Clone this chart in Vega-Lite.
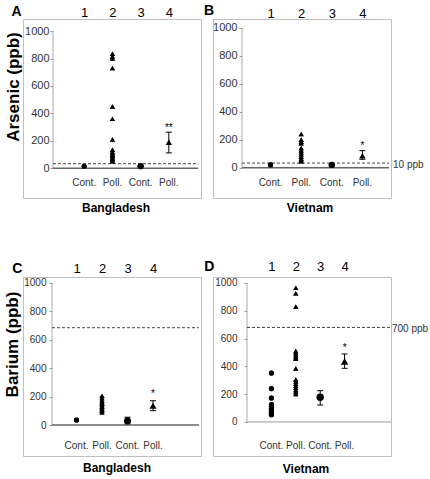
{
  "$schema": "https://vega.github.io/schema/vega-lite/v6.json",
  "padding": {"left": 2, "top": 3, "right": 0, "bottom": 0},
  "background": "white",
  "bounds": "flush",
  "columns": 2,
  "spacing": {"row": 79, "column": 12},
  "config": {
    "font": "Liberation Sans",
    "view": {"stroke": "#c0c0c0", "strokeWidth": 1},
    "axis": {"grid": false}
  },
  "datasets": {
    "cats": [
      {"c": 1, "lab": "Cont."}, {"c": 2, "lab": "Poll."}, {"c": 3, "lab": "Cont."}, {"c": 4, "lab": "Poll."}
    ],
    "pts": [
      {"p": "A", "c": 1, "v": 15},
      {"p": "A", "c": 2, "v": 835}, {"p": "A", "c": 2, "v": 815}, {"p": "A", "c": 2, "v": 800}, {"p": "A", "c": 2, "v": 730},
      {"p": "A", "c": 2, "v": 450}, {"p": "A", "c": 2, "v": 360}, {"p": "A", "c": 2, "v": 210}, {"p": "A", "c": 2, "v": 135},
      {"p": "A", "c": 2, "v": 120}, {"p": "A", "c": 2, "v": 110}, {"p": "A", "c": 2, "v": 100}, {"p": "A", "c": 2, "v": 90},
      {"p": "A", "c": 2, "v": 80}, {"p": "A", "c": 2, "v": 70}, {"p": "A", "c": 2, "v": 60}, {"p": "A", "c": 2, "v": 50},
      {"p": "B", "c": 1, "v": 20},
      {"p": "B", "c": 2, "v": 240}, {"p": "B", "c": 2, "v": 200}, {"p": "B", "c": 2, "v": 185}, {"p": "B", "c": 2, "v": 175},
      {"p": "B", "c": 2, "v": 140}, {"p": "B", "c": 2, "v": 125}, {"p": "B", "c": 2, "v": 110}, {"p": "B", "c": 2, "v": 95},
      {"p": "B", "c": 2, "v": 80}, {"p": "B", "c": 2, "v": 65}, {"p": "B", "c": 2, "v": 55}, {"p": "B", "c": 2, "v": 45},
      {"p": "C", "c": 1, "v": 35},
      {"p": "C", "c": 2, "v": 205}, {"p": "C", "c": 2, "v": 190}, {"p": "C", "c": 2, "v": 175}, {"p": "C", "c": 2, "v": 160},
      {"p": "C", "c": 2, "v": 150}, {"p": "C", "c": 2, "v": 140}, {"p": "C", "c": 2, "v": 130}, {"p": "C", "c": 2, "v": 120},
      {"p": "C", "c": 2, "v": 110}, {"p": "C", "c": 2, "v": 100}, {"p": "C", "c": 2, "v": 90},
      {"p": "D", "c": 1, "v": 352}, {"p": "D", "c": 1, "v": 240}, {"p": "D", "c": 1, "v": 172}, {"p": "D", "c": 1, "v": 125},
      {"p": "D", "c": 1, "v": 110}, {"p": "D", "c": 1, "v": 95}, {"p": "D", "c": 1, "v": 80}, {"p": "D", "c": 1, "v": 65},
      {"p": "D", "c": 1, "v": 52},
      {"p": "D", "c": 2, "v": 965}, {"p": "D", "c": 2, "v": 925}, {"p": "D", "c": 2, "v": 830}, {"p": "D", "c": 2, "v": 510},
      {"p": "D", "c": 2, "v": 495}, {"p": "D", "c": 2, "v": 480}, {"p": "D", "c": 2, "v": 465}, {"p": "D", "c": 2, "v": 455},
      {"p": "D", "c": 2, "v": 385}, {"p": "D", "c": 2, "v": 305}, {"p": "D", "c": 2, "v": 290}, {"p": "D", "c": 2, "v": 275},
      {"p": "D", "c": 2, "v": 260}, {"p": "D", "c": 2, "v": 245}, {"p": "D", "c": 2, "v": 230}, {"p": "D", "c": 2, "v": 215},
      {"p": "D", "c": 2, "v": 200}
    ],
    "means": [
      {"p": "A", "c": 3, "v": 15, "lo": 12, "hi": 18, "s": ""},
      {"p": "A", "c": 4, "v": 190, "lo": 112, "hi": 263, "s": "**"},
      {"p": "B", "c": 3, "v": 20, "lo": 17, "hi": 23, "s": ""},
      {"p": "B", "c": 4, "v": 86, "lo": 60, "hi": 122, "s": "*"},
      {"p": "C", "c": 3, "v": 30, "lo": 8, "hi": 55, "s": ""},
      {"p": "C", "c": 4, "v": 136, "lo": 101, "hi": 171, "s": "*"},
      {"p": "D", "c": 3, "v": 178, "lo": 122, "hi": 225, "s": ""},
      {"p": "D", "c": 4, "v": 435, "lo": 386, "hi": 489, "s": "*"}
    ]
  },
  "concat": [
    {
      "width": 178, "height": 179,
      "resolve": {"axis": {"x": "independent", "y": "independent"}},
      "title": {"text": "Bangladesh", "orient": "bottom", "anchor": "middle", "frame": "group", "offset": 5, "dx": 4, "fontSize": 12, "fontWeight": "bold", "color": "black"},
      "layer": [
        {"data": {"name": "pts"}, "transform": [{"filter": "datum.p == 'A'"}],
         "mark": {"type": "point", "filled": true, "color": "black", "opacity": 1, "size": 26},
         "encoding": {
           "x": {"field": "c", "type": "quantitative", "scale": {"domain": [-1.17, 5.14], "nice": false, "zero": false},
                 "axis": {"orient": "top", "values": [1, 2, 3, 4], "format": "d", "domain": false, "ticks": false, "tickSize": 0, "labelFontSize": 13, "labelColor": "black", "labelPadding": 0, "labelFlush": false,
                          "title": "A", "titleFontSize": 14, "titleFontWeight": "bold", "titleColor": "black", "titleX": -7, "titleY": -7.5, "titleAngle": 0, "titleAlign": "center", "titleBaseline": "middle"}},
           "y": {"field": "v", "type": "quantitative", "scale": {"domain": [-217, 1088], "nice": false, "zero": false},
                 "axis": {"orient": "left", "offset": -30, "values": [0, 200, 400, 600, 800, 1000], "format": "d", "domain": false, "tickColor": "#999999", "tickSize": 3, "labelFontSize": 11, "labelColor": "#333333", "labelPadding": 1, "labelFlush": false,
                          "title": "Arsenic (ppb)", "titleFontSize": 17, "titleFontWeight": "bold", "titleColor": "black", "titleX": -40, "titleY": 67.5, "titleAngle": -90, "titleAlign": "center", "titleBaseline": "middle"}},
           "shape": {"condition": {"test": "datum.c % 2 == 1", "value": "circle"}, "value": "triangle-up"}}},
        {"data": {"values": [{}]}, "mark": {"type": "rule", "color": "#aaaaaa"},
         "encoding": {"x": {"datum": -0.106, "type": "quantitative", "scale": {"domain": [-1.17, 5.14], "nice": false, "zero": false}, "axis": null},
                      "y": {"datum": 0, "type": "quantitative", "scale": {"domain": [-217, 1088], "nice": false, "zero": false}, "axis": null},
                      "y2": {"datum": 1000}}},
        {"data": {"values": [{}]}, "mark": {"type": "rule", "color": "#666666", "strokeWidth": 1.5},
         "encoding": {"x": {"datum": -0.106, "type": "quantitative", "scale": {"domain": [-1.17, 5.14], "nice": false, "zero": false}, "axis": null},
                      "x2": {"datum": 5.04},
                      "y": {"datum": 0, "type": "quantitative", "scale": {"domain": [-217, 1088], "nice": false, "zero": false}, "axis": null}}},
        {"data": {"values": [{}]}, "mark": {"type": "rule", "color": "#444444", "strokeDash": [3, 2]},
         "encoding": {"x": {"datum": -0.106, "type": "quantitative", "scale": {"domain": [-1.17, 5.14], "nice": false, "zero": false}, "axis": null},
                      "x2": {"datum": 5.04},
                      "y": {"datum": 33, "type": "quantitative", "scale": {"domain": [-217, 1088], "nice": false, "zero": false}, "axis": null}}},
        {"data": {"name": "cats"}, "mark": {"type": "text", "fontSize": 10, "color": "#333333", "baseline": "middle"},
         "encoding": {"x": {"field": "c", "type": "quantitative", "scale": {"domain": [-1.17, 5.14], "nice": false, "zero": false}, "axis": null},
                      "y": {"datum": -107, "type": "quantitative", "scale": {"domain": [-217, 1088], "nice": false, "zero": false}, "axis": null},
                      "text": {"field": "lab"}}},
        {"data": {"name": "pts"}, "transform": [{"filter": "datum.p == 'A'"}],
         "mark": {"type": "point", "filled": true, "color": "black", "opacity": 1, "size": 26},
         "encoding": {"x": {"field": "c", "type": "quantitative", "scale": {"domain": [-1.17, 5.14], "nice": false, "zero": false}, "axis": null},
                      "y": {"field": "v", "type": "quantitative", "scale": {"domain": [-217, 1088], "nice": false, "zero": false}, "axis": null},
                      "shape": {"condition": {"test": "datum.c % 2 == 1", "value": "circle"}, "value": "triangle-up"}}},
        {"data": {"name": "means"}, "transform": [{"filter": "datum.p == 'A'"}],
         "mark": {"type": "rule", "color": "black"},
         "encoding": {"x": {"field": "c", "type": "quantitative", "scale": {"domain": [-1.17, 5.14], "nice": false, "zero": false}, "axis": null},
                      "y": {"field": "lo", "type": "quantitative", "scale": {"domain": [-217, 1088], "nice": false, "zero": false}, "axis": null},
                      "y2": {"field": "hi"}}},
        {"data": {"name": "means"}, "transform": [{"filter": "datum.p == 'A'"}],
         "mark": {"type": "tick", "orient": "horizontal", "size": 6, "thickness": 1, "color": "black", "opacity": 1},
         "encoding": {"x": {"field": "c", "type": "quantitative", "scale": {"domain": [-1.17, 5.14], "nice": false, "zero": false}, "axis": null},
                      "y": {"field": "lo", "type": "quantitative", "scale": {"domain": [-217, 1088], "nice": false, "zero": false}, "axis": null}}},
        {"data": {"name": "means"}, "transform": [{"filter": "datum.p == 'A'"}],
         "mark": {"type": "tick", "orient": "horizontal", "size": 6, "thickness": 1, "color": "black", "opacity": 1},
         "encoding": {"x": {"field": "c", "type": "quantitative", "scale": {"domain": [-1.17, 5.14], "nice": false, "zero": false}, "axis": null},
                      "y": {"field": "hi", "type": "quantitative", "scale": {"domain": [-217, 1088], "nice": false, "zero": false}, "axis": null}}},
        {"data": {"name": "means"}, "transform": [{"filter": "datum.p == 'A'"}],
         "mark": {"type": "point", "filled": true, "color": "black", "opacity": 1, "size": 40},
         "encoding": {"x": {"field": "c", "type": "quantitative", "scale": {"domain": [-1.17, 5.14], "nice": false, "zero": false}, "axis": null},
                      "y": {"field": "v", "type": "quantitative", "scale": {"domain": [-217, 1088], "nice": false, "zero": false}, "axis": null},
                      "shape": {"condition": {"test": "datum.c % 2 == 1", "value": "circle"}, "value": "triangle-up"}}},
        {"data": {"name": "means"}, "transform": [{"filter": "datum.p == 'A' && datum.s != ''"}],
         "mark": {"type": "text", "fontSize": 10, "color": "black", "baseline": "alphabetic", "dy": -1},
         "encoding": {"x": {"field": "c", "type": "quantitative", "scale": {"domain": [-1.17, 5.14], "nice": false, "zero": false}, "axis": null},
                      "y": {"field": "hi", "type": "quantitative", "scale": {"domain": [-217, 1088], "nice": false, "zero": false}, "axis": null},
                      "text": {"field": "s"}}}
      ]
    },
    {
      "width": 178, "height": 179,
      "resolve": {"axis": {"x": "independent", "y": "independent"}},
      "title": {"text": "Vietnam", "orient": "bottom", "anchor": "middle", "frame": "group", "offset": 5, "dx": 8, "fontSize": 12, "fontWeight": "bold", "color": "black"},
      "layer": [
        {"data": {"name": "pts"}, "transform": [{"filter": "datum.p == 'B'"}],
         "mark": {"type": "point", "filled": true, "color": "black", "opacity": 1, "size": 26},
         "encoding": {
           "x": {"field": "c", "type": "quantitative", "scale": {"domain": [-0.882, 4.935], "nice": false, "zero": false},
                 "axis": {"orient": "top", "values": [1, 2, 3, 4], "format": "d", "domain": false, "ticks": false, "tickSize": 0, "labelFontSize": 13, "labelColor": "black", "labelPadding": -1, "labelFlush": false,
                          "title": "B", "titleFontSize": 14, "titleFontWeight": "bold", "titleColor": "black", "titleX": -4.5, "titleY": -8.3, "titleAngle": 0, "titleAlign": "center", "titleBaseline": "middle"}},
           "y": {"field": "v", "type": "quantitative", "scale": {"domain": [-217, 1064], "nice": false, "zero": false},
                 "axis": {"orient": "left", "offset": -29, "values": [0, 200, 400, 600, 800, 1000], "format": "d", "domain": false, "tickColor": "#999999", "tickSize": 3, "labelFontSize": 11, "labelColor": "#333333", "labelPadding": 2, "labelFlush": false, "title": null}},
           "shape": {"condition": {"test": "datum.c % 2 == 1", "value": "circle"}, "value": "triangle-up"}}},
        {"data": {"values": [{}]}, "mark": {"type": "rule", "color": "#aaaaaa"},
         "encoding": {"x": {"datum": 0.065, "type": "quantitative", "scale": {"domain": [-0.882, 4.935], "nice": false, "zero": false}, "axis": null},
                      "y": {"datum": 0, "type": "quantitative", "scale": {"domain": [-217, 1064], "nice": false, "zero": false}, "axis": null},
                      "y2": {"datum": 1000}}},
        {"data": {"values": [{}]}, "mark": {"type": "rule", "color": "#666666", "strokeWidth": 1.5},
         "encoding": {"x": {"datum": 0.065, "type": "quantitative", "scale": {"domain": [-0.882, 4.935], "nice": false, "zero": false}, "axis": null},
                      "x2": {"datum": 4.87},
                      "y": {"datum": 0, "type": "quantitative", "scale": {"domain": [-217, 1064], "nice": false, "zero": false}, "axis": null}}},
        {"data": {"values": [{}]}, "mark": {"type": "rule", "color": "#444444", "strokeDash": [3, 2]},
         "encoding": {"x": {"datum": 0.065, "type": "quantitative", "scale": {"domain": [-0.882, 4.935], "nice": false, "zero": false}, "axis": null},
                      "x2": {"datum": 4.87},
                      "y": {"datum": 33, "type": "quantitative", "scale": {"domain": [-217, 1064], "nice": false, "zero": false}, "axis": null}}},
        {"data": {"values": [{"t": "10 ppb"}]}, "mark": {"type": "text", "fontSize": 10, "color": "#333333", "align": "left", "baseline": "middle", "dx": 2, "dy": 2},
         "encoding": {"x": {"datum": 4.935, "type": "quantitative", "scale": {"domain": [-0.882, 4.935], "nice": false, "zero": false}, "axis": null},
                      "y": {"datum": 33, "type": "quantitative", "scale": {"domain": [-217, 1064], "nice": false, "zero": false}, "axis": null},
                      "text": {"field": "t"}}},
        {"data": {"name": "cats"}, "mark": {"type": "text", "fontSize": 10, "color": "#333333", "baseline": "middle"},
         "encoding": {"x": {"field": "c", "type": "quantitative", "scale": {"domain": [-0.882, 4.935], "nice": false, "zero": false}, "axis": null},
                      "y": {"datum": -109, "type": "quantitative", "scale": {"domain": [-217, 1064], "nice": false, "zero": false}, "axis": null},
                      "text": {"field": "lab"}}},
        {"data": {"name": "pts"}, "transform": [{"filter": "datum.p == 'B'"}],
         "mark": {"type": "point", "filled": true, "color": "black", "opacity": 1, "size": 26},
         "encoding": {"x": {"field": "c", "type": "quantitative", "scale": {"domain": [-0.882, 4.935], "nice": false, "zero": false}, "axis": null},
                      "y": {"field": "v", "type": "quantitative", "scale": {"domain": [-217, 1064], "nice": false, "zero": false}, "axis": null},
                      "shape": {"condition": {"test": "datum.c % 2 == 1", "value": "circle"}, "value": "triangle-up"}}},
        {"data": {"name": "means"}, "transform": [{"filter": "datum.p == 'B'"}],
         "mark": {"type": "rule", "color": "black"},
         "encoding": {"x": {"field": "c", "type": "quantitative", "scale": {"domain": [-0.882, 4.935], "nice": false, "zero": false}, "axis": null},
                      "y": {"field": "lo", "type": "quantitative", "scale": {"domain": [-217, 1064], "nice": false, "zero": false}, "axis": null},
                      "y2": {"field": "hi"}}},
        {"data": {"name": "means"}, "transform": [{"filter": "datum.p == 'B'"}],
         "mark": {"type": "tick", "orient": "horizontal", "size": 6, "thickness": 1, "color": "black", "opacity": 1},
         "encoding": {"x": {"field": "c", "type": "quantitative", "scale": {"domain": [-0.882, 4.935], "nice": false, "zero": false}, "axis": null},
                      "y": {"field": "lo", "type": "quantitative", "scale": {"domain": [-217, 1064], "nice": false, "zero": false}, "axis": null}}},
        {"data": {"name": "means"}, "transform": [{"filter": "datum.p == 'B'"}],
         "mark": {"type": "tick", "orient": "horizontal", "size": 6, "thickness": 1, "color": "black", "opacity": 1},
         "encoding": {"x": {"field": "c", "type": "quantitative", "scale": {"domain": [-0.882, 4.935], "nice": false, "zero": false}, "axis": null},
                      "y": {"field": "hi", "type": "quantitative", "scale": {"domain": [-217, 1064], "nice": false, "zero": false}, "axis": null}}},
        {"data": {"name": "means"}, "transform": [{"filter": "datum.p == 'B'"}],
         "mark": {"type": "point", "filled": true, "color": "black", "opacity": 1, "size": 40},
         "encoding": {"x": {"field": "c", "type": "quantitative", "scale": {"domain": [-0.882, 4.935], "nice": false, "zero": false}, "axis": null},
                      "y": {"field": "v", "type": "quantitative", "scale": {"domain": [-217, 1064], "nice": false, "zero": false}, "axis": null},
                      "shape": {"condition": {"test": "datum.c % 2 == 1", "value": "circle"}, "value": "triangle-up"}}},
        {"data": {"name": "means"}, "transform": [{"filter": "datum.p == 'B' && datum.s != ''"}],
         "mark": {"type": "text", "fontSize": 10, "color": "black", "baseline": "alphabetic", "dy": -2},
         "encoding": {"x": {"field": "c", "type": "quantitative", "scale": {"domain": [-0.882, 4.935], "nice": false, "zero": false}, "axis": null},
                      "y": {"field": "hi", "type": "quantitative", "scale": {"domain": [-217, 1064], "nice": false, "zero": false}, "axis": null},
                      "text": {"field": "s"}}}
      ]
    },
    {
      "width": 178, "height": 179,
      "resolve": {"axis": {"x": "independent", "y": "independent"}},
      "title": {"text": "Bangladesh", "orient": "bottom", "anchor": "middle", "frame": "group", "offset": 7, "dx": 5, "fontSize": 12, "fontWeight": "bold", "color": "black"},
      "layer": [
        {"data": {"name": "pts"}, "transform": [{"filter": "datum.p == 'C'"}],
         "mark": {"type": "point", "filled": true, "color": "black", "opacity": 1, "size": 26},
         "encoding": {
           "x": {"field": "c", "type": "quantitative", "scale": {"domain": [-1.098, 5.882], "nice": false, "zero": false},
                 "axis": {"orient": "top", "values": [1, 2, 3, 4], "format": "d", "domain": false, "ticks": false, "tickSize": 0, "labelFontSize": 13, "labelColor": "black", "labelPadding": 2, "labelFlush": false,
                          "title": "C", "titleFontSize": 14, "titleFontWeight": "bold", "titleColor": "black", "titleX": -6.3, "titleY": -9, "titleAngle": 0, "titleAlign": "center", "titleBaseline": "middle"}},
           "y": {"field": "v", "type": "quantitative", "scale": {"domain": [-218, 1042], "nice": false, "zero": false},
                 "axis": {"orient": "left", "offset": -29, "values": [0, 200, 400, 600, 800, 1000], "format": "d", "domain": false, "tickColor": "#999999", "tickSize": 3, "labelFontSize": 10, "labelColor": "#333333", "labelPadding": 3, "labelFlush": false,
                          "title": "Barium (ppb)", "titleFontSize": 17, "titleFontWeight": "bold", "titleColor": "black", "titleX": -39.7, "titleY": 67, "titleAngle": -90, "titleAlign": "center", "titleBaseline": "middle"}},
           "shape": {"condition": {"test": "datum.c % 2 == 1", "value": "circle"}, "value": "triangle-up"}}},
        {"data": {"values": [{}]}, "mark": {"type": "rule", "color": "#aaaaaa"},
         "encoding": {"x": {"datum": 0.039, "type": "quantitative", "scale": {"domain": [-1.098, 5.882], "nice": false, "zero": false}, "axis": null},
                      "y": {"datum": 0, "type": "quantitative", "scale": {"domain": [-218, 1042], "nice": false, "zero": false}, "axis": null},
                      "y2": {"datum": 1000}}},
        {"data": {"values": [{}]}, "mark": {"type": "rule", "color": "#666666", "strokeWidth": 1.5},
         "encoding": {"x": {"datum": 0.039, "type": "quantitative", "scale": {"domain": [-1.098, 5.882], "nice": false, "zero": false}, "axis": null},
                      "x2": {"datum": 5.8},
                      "y": {"datum": 0, "type": "quantitative", "scale": {"domain": [-218, 1042], "nice": false, "zero": false}, "axis": null}}},
        {"data": {"values": [{}]}, "mark": {"type": "rule", "color": "#444444", "strokeDash": [3, 2]},
         "encoding": {"x": {"datum": 0.039, "type": "quantitative", "scale": {"domain": [-1.098, 5.882], "nice": false, "zero": false}, "axis": null},
                      "x2": {"datum": 5.8},
                      "y": {"datum": 685, "type": "quantitative", "scale": {"domain": [-218, 1042], "nice": false, "zero": false}, "axis": null}}},
        {"data": {"name": "cats"}, "mark": {"type": "text", "fontSize": 10, "color": "#333333", "baseline": "middle"},
         "encoding": {"x": {"field": "c", "type": "quantitative", "scale": {"domain": [-1.098, 5.882], "nice": false, "zero": false}, "axis": null},
                      "y": {"datum": -148, "type": "quantitative", "scale": {"domain": [-218, 1042], "nice": false, "zero": false}, "axis": null},
                      "text": {"field": "lab"}}},
        {"data": {"name": "pts"}, "transform": [{"filter": "datum.p == 'C'"}],
         "mark": {"type": "point", "filled": true, "color": "black", "opacity": 1, "size": 26},
         "encoding": {"x": {"field": "c", "type": "quantitative", "scale": {"domain": [-1.098, 5.882], "nice": false, "zero": false}, "axis": null},
                      "y": {"field": "v", "type": "quantitative", "scale": {"domain": [-218, 1042], "nice": false, "zero": false}, "axis": null},
                      "shape": {"condition": {"test": "datum.c % 2 == 1", "value": "circle"}, "value": "triangle-up"}}},
        {"data": {"name": "means"}, "transform": [{"filter": "datum.p == 'C'"}],
         "mark": {"type": "rule", "color": "black"},
         "encoding": {"x": {"field": "c", "type": "quantitative", "scale": {"domain": [-1.098, 5.882], "nice": false, "zero": false}, "axis": null},
                      "y": {"field": "lo", "type": "quantitative", "scale": {"domain": [-218, 1042], "nice": false, "zero": false}, "axis": null},
                      "y2": {"field": "hi"}}},
        {"data": {"name": "means"}, "transform": [{"filter": "datum.p == 'C'"}],
         "mark": {"type": "tick", "orient": "horizontal", "size": 6, "thickness": 1, "color": "black", "opacity": 1},
         "encoding": {"x": {"field": "c", "type": "quantitative", "scale": {"domain": [-1.098, 5.882], "nice": false, "zero": false}, "axis": null},
                      "y": {"field": "lo", "type": "quantitative", "scale": {"domain": [-218, 1042], "nice": false, "zero": false}, "axis": null}}},
        {"data": {"name": "means"}, "transform": [{"filter": "datum.p == 'C'"}],
         "mark": {"type": "tick", "orient": "horizontal", "size": 6, "thickness": 1, "color": "black", "opacity": 1},
         "encoding": {"x": {"field": "c", "type": "quantitative", "scale": {"domain": [-1.098, 5.882], "nice": false, "zero": false}, "axis": null},
                      "y": {"field": "hi", "type": "quantitative", "scale": {"domain": [-218, 1042], "nice": false, "zero": false}, "axis": null}}},
        {"data": {"name": "means"}, "transform": [{"filter": "datum.p == 'C'"}],
         "mark": {"type": "point", "filled": true, "color": "black", "opacity": 1, "size": 50},
         "encoding": {"x": {"field": "c", "type": "quantitative", "scale": {"domain": [-1.098, 5.882], "nice": false, "zero": false}, "axis": null},
                      "y": {"field": "v", "type": "quantitative", "scale": {"domain": [-218, 1042], "nice": false, "zero": false}, "axis": null},
                      "shape": {"condition": {"test": "datum.c % 2 == 1", "value": "circle"}, "value": "triangle-up"}}},
        {"data": {"name": "means"}, "transform": [{"filter": "datum.p == 'C' && datum.s != ''"}],
         "mark": {"type": "text", "fontSize": 10, "color": "black", "baseline": "alphabetic", "dy": -4},
         "encoding": {"x": {"field": "c", "type": "quantitative", "scale": {"domain": [-1.098, 5.882], "nice": false, "zero": false}, "axis": null},
                      "y": {"field": "hi", "type": "quantitative", "scale": {"domain": [-218, 1042], "nice": false, "zero": false}, "axis": null},
                      "text": {"field": "s"}}}
      ]
    },
    {
      "width": 178, "height": 179,
      "resolve": {"axis": {"x": "independent", "y": "independent"}},
      "title": {"text": "Vietnam", "orient": "bottom", "anchor": "middle", "frame": "group", "offset": 8, "dx": 4, "fontSize": 12, "fontWeight": "bold", "color": "black"},
      "layer": [
        {"data": {"name": "pts"}, "transform": [{"filter": "datum.p == 'D'"}],
         "mark": {"type": "point", "filled": true, "color": "black", "opacity": 1, "size": 26},
         "encoding": {
           "x": {"field": "c", "type": "quantitative", "scale": {"domain": [-1.393, 5.902], "nice": false, "zero": false},
                 "axis": {"orient": "top", "values": [1, 2, 3, 4], "format": "d", "domain": false, "ticks": false, "tickSize": 0, "labelFontSize": 13, "labelColor": "black", "labelPadding": 4, "labelFlush": false,
                          "title": "D", "titleFontSize": 14, "titleFontWeight": "bold", "titleColor": "black", "titleX": -4.3, "titleY": -10.5, "titleAngle": 0, "titleAlign": "center", "titleBaseline": "middle"}},
           "y": {"field": "v", "type": "quantitative", "scale": {"domain": [-245, 1043], "nice": false, "zero": false},
                 "axis": {"orient": "left", "offset": -34, "values": [0, 200, 400, 600, 800, 1000], "format": "d", "domain": false, "tickColor": "#999999", "tickSize": 3, "labelFontSize": 10, "labelColor": "#333333", "labelPadding": 7, "labelFlush": false, "title": null}},
           "shape": {"condition": {"test": "datum.c % 2 == 1", "value": "circle"}, "value": "triangle-up"}}},
        {"data": {"values": [{}]}, "mark": {"type": "rule", "color": "#aaaaaa"},
         "encoding": {"x": {"datum": 0, "type": "quantitative", "scale": {"domain": [-1.393, 5.902], "nice": false, "zero": false}, "axis": null},
                      "y": {"datum": 0, "type": "quantitative", "scale": {"domain": [-245, 1043], "nice": false, "zero": false}, "axis": null},
                      "y2": {"datum": 1000}}},
        {"data": {"values": [{}]}, "mark": {"type": "rule", "color": "#999999", "strokeWidth": 1},
         "encoding": {"x": {"datum": 0, "type": "quantitative", "scale": {"domain": [-1.393, 5.902], "nice": false, "zero": false}, "axis": null},
                      "x2": {"datum": 5.9},
                      "y": {"datum": 0, "type": "quantitative", "scale": {"domain": [-245, 1043], "nice": false, "zero": false}, "axis": null}}},
        {"data": {"values": [{}]}, "mark": {"type": "rule", "color": "#444444", "strokeDash": [3, 2]},
         "encoding": {"x": {"datum": 0, "type": "quantitative", "scale": {"domain": [-1.393, 5.902], "nice": false, "zero": false}, "axis": null},
                      "x2": {"datum": 5.902},
                      "y": {"datum": 680, "type": "quantitative", "scale": {"domain": [-245, 1043], "nice": false, "zero": false}, "axis": null}}},
        {"data": {"values": [{"t": "700 ppb"}]}, "mark": {"type": "text", "fontSize": 10, "color": "#333333", "align": "left", "baseline": "middle", "dx": 1, "dy": 2},
         "encoding": {"x": {"datum": 5.902, "type": "quantitative", "scale": {"domain": [-1.393, 5.902], "nice": false, "zero": false}, "axis": null},
                      "y": {"datum": 680, "type": "quantitative", "scale": {"domain": [-245, 1043], "nice": false, "zero": false}, "axis": null},
                      "text": {"field": "t"}}},
        {"data": {"name": "cats"}, "mark": {"type": "text", "fontSize": 10, "color": "#333333", "baseline": "middle"},
         "encoding": {"x": {"field": "c", "type": "quantitative", "scale": {"domain": [-1.393, 5.902], "nice": false, "zero": false}, "axis": null},
                      "y": {"datum": -173, "type": "quantitative", "scale": {"domain": [-245, 1043], "nice": false, "zero": false}, "axis": null},
                      "text": {"field": "lab"}}},
        {"data": {"name": "pts"}, "transform": [{"filter": "datum.p == 'D'"}],
         "mark": {"type": "point", "filled": true, "color": "black", "opacity": 1, "size": 26},
         "encoding": {"x": {"field": "c", "type": "quantitative", "scale": {"domain": [-1.393, 5.902], "nice": false, "zero": false}, "axis": null},
                      "y": {"field": "v", "type": "quantitative", "scale": {"domain": [-245, 1043], "nice": false, "zero": false}, "axis": null},
                      "shape": {"condition": {"test": "datum.c % 2 == 1", "value": "circle"}, "value": "triangle-up"}}},
        {"data": {"name": "means"}, "transform": [{"filter": "datum.p == 'D'"}],
         "mark": {"type": "rule", "color": "black"},
         "encoding": {"x": {"field": "c", "type": "quantitative", "scale": {"domain": [-1.393, 5.902], "nice": false, "zero": false}, "axis": null},
                      "y": {"field": "lo", "type": "quantitative", "scale": {"domain": [-245, 1043], "nice": false, "zero": false}, "axis": null},
                      "y2": {"field": "hi"}}},
        {"data": {"name": "means"}, "transform": [{"filter": "datum.p == 'D'"}],
         "mark": {"type": "tick", "orient": "horizontal", "size": 6, "thickness": 1, "color": "black", "opacity": 1},
         "encoding": {"x": {"field": "c", "type": "quantitative", "scale": {"domain": [-1.393, 5.902], "nice": false, "zero": false}, "axis": null},
                      "y": {"field": "lo", "type": "quantitative", "scale": {"domain": [-245, 1043], "nice": false, "zero": false}, "axis": null}}},
        {"data": {"name": "means"}, "transform": [{"filter": "datum.p == 'D'"}],
         "mark": {"type": "tick", "orient": "horizontal", "size": 6, "thickness": 1, "color": "black", "opacity": 1},
         "encoding": {"x": {"field": "c", "type": "quantitative", "scale": {"domain": [-1.393, 5.902], "nice": false, "zero": false}, "axis": null},
                      "y": {"field": "hi", "type": "quantitative", "scale": {"domain": [-245, 1043], "nice": false, "zero": false}, "axis": null}}},
        {"data": {"name": "means"}, "transform": [{"filter": "datum.p == 'D'"}],
         "mark": {"type": "point", "filled": true, "color": "black", "opacity": 1, "size": 55},
         "encoding": {"x": {"field": "c", "type": "quantitative", "scale": {"domain": [-1.393, 5.902], "nice": false, "zero": false}, "axis": null},
                      "y": {"field": "v", "type": "quantitative", "scale": {"domain": [-245, 1043], "nice": false, "zero": false}, "axis": null},
                      "shape": {"condition": {"test": "datum.c % 2 == 1", "value": "circle"}, "value": "triangle-up"}}},
        {"data": {"name": "means"}, "transform": [{"filter": "datum.p == 'D' && datum.s != ''"}],
         "mark": {"type": "text", "fontSize": 10, "color": "black", "baseline": "alphabetic", "dy": -3},
         "encoding": {"x": {"field": "c", "type": "quantitative", "scale": {"domain": [-1.393, 5.902], "nice": false, "zero": false}, "axis": null},
                      "y": {"field": "hi", "type": "quantitative", "scale": {"domain": [-245, 1043], "nice": false, "zero": false}, "axis": null},
                      "text": {"field": "s"}}}
      ]
    }
  ]
}
